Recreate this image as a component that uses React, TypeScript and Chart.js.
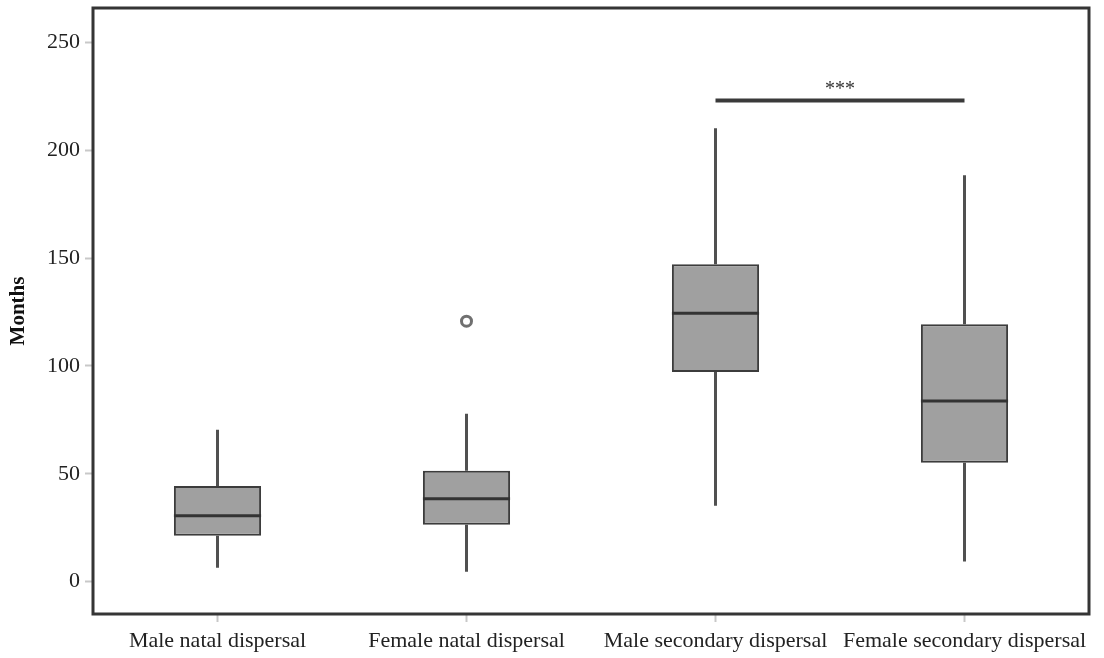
import React, { useEffect, useRef } from "react";
import { Chart, registerables } from "chart.js";

Chart.register(...registerables);

const categories = [
  "Male natal dispersal",
  "Female natal dispersal",
  "Male secondary dispersal",
  "Female secondary dispersal",
];
const whiskerLow = [6.5, 4.6, 35.2, 9.3];
const q1 = [21.3, 26.4, 97.2, 55.1];
const median = [30.6, 38.4, 124.5, 83.8];
const q3 = [44.4, 51.4, 147.2, 119.4];
const whiskerHigh = [70.4, 77.8, 210.2, 188.4];
const outliers = [null, 120.8, null, null];
const significance = [null, null, 223.1, 223.1];
const significanceLabel = "***";
const yTicks = [0, 50, 100, 150, 200, 250];
const yMin = -15;
const yMax = 266;

const FONT = "'Liberation Serif', 'DejaVu Serif', serif";

const boxPlugin = {
  id: "boxParts",
  beforeDatasetsDraw(chart: any) {
    const { ctx } = chart;
    const x = chart.scales.x;
    const y = chart.scales.y;
    ctx.save();
    ctx.strokeStyle = "#505050";
    ctx.lineWidth = 3;
    ctx.lineCap = "butt";
    for (let i = 0; i < categories.length; i++) {
      const cx = x.getPixelForValue(i);
      ctx.beginPath();
      ctx.moveTo(cx, y.getPixelForValue(whiskerLow[i]));
      ctx.lineTo(cx, y.getPixelForValue(q1[i]));
      ctx.moveTo(cx, y.getPixelForValue(q3[i]));
      ctx.lineTo(cx, y.getPixelForValue(whiskerHigh[i]));
      ctx.stroke();
    }
    ctx.restore();
  },
  afterDatasetsDraw(chart: any) {
    const { ctx } = chart;
    const y = chart.scales.y;
    const meta = chart.getDatasetMeta(0);
    ctx.save();
    ctx.strokeStyle = "#333333";
    ctx.lineWidth = 3;
    meta.data.forEach((bar: any, i: number) => {
      const half = bar.width / 2;
      const py = y.getPixelForValue(median[i]);
      ctx.beginPath();
      ctx.moveTo(bar.x - half, py);
      ctx.lineTo(bar.x + half, py);
      ctx.stroke();
    });
    const sigMeta = chart.getDatasetMeta(2);
    const pts = sigMeta.data.filter((p: any, i: number) => significance[i] != null);
    if (pts.length >= 2) {
      const mx = (pts[0].x + pts[pts.length - 1].x) / 2;
      const my = pts[0].y;
      ctx.fillStyle = "#333";
      ctx.font = `20px ${FONT}`;
      ctx.textAlign = "center";
      ctx.textBaseline = "bottom";
      ctx.fillText(significanceLabel, mx, my - 1);
    }
    ctx.restore();
  },
  afterDraw(chart: any) {
    const { ctx, chartArea } = chart;
    ctx.save();
    ctx.strokeStyle = "#353535";
    ctx.lineWidth = 3;
    ctx.strokeRect(chartArea.left, chartArea.top, chartArea.right - chartArea.left, chartArea.bottom - chartArea.top);
    ctx.restore();
  },
};

export default function App() {
  const ref = useRef<HTMLCanvasElement>(null);
  useEffect(() => {
    document.body.style.margin = "0";
    const chart = new Chart(ref.current!, {
      type: "bar",
      data: {
        labels: categories,
        datasets: [
          {
            type: "bar",
            data: q1.map((v, i) => [v, q3[i]]) as any,
            backgroundColor: "#a0a0a0",
            borderColor: "#3c3c3c",
            borderWidth: 2,
            borderSkipped: false,
            barPercentage: 0.35,
            categoryPercentage: 1,
          },
          {
            type: "line",
            data: outliers as any,
            showLine: false,
            pointStyle: "circle",
            pointRadius: 5,
            pointBorderWidth: 3,
            pointBorderColor: "#707070",
            pointBackgroundColor: "#ffffff",
          },
          {
            type: "line",
            data: significance as any,
            borderColor: "#3a3a3a",
            borderWidth: 4,
            pointRadius: 0,
            spanGaps: false,
          },
        ],
      },
      options: {
        animation: false,
        responsive: false,
        maintainAspectRatio: false,
        layout: { padding: { top: 8, right: 15, left: 0, bottom: 0 } },
        plugins: { legend: { display: false }, tooltip: { enabled: false } },
        scales: {
          x: {
            type: "category",
            offset: true,
            grid: {
              display: true,
              drawOnChartArea: false,
              drawTicks: true,
              tickLength: 8,
              tickColor: "#c8c8c8",
              tickWidth: 2,
              offset: false,
            },
            border: { display: false },
            ticks: {
              color: "#222",
              font: { family: FONT, size: 22 },
              padding: 6,
              maxRotation: 0,
              autoSkip: false,
            },
            afterFit(scale: any) {
              scale.height = 44;
              scale.paddingLeft = 0;
              scale.paddingRight = 0;
            },
          },
          y: {
            type: "linear",
            min: yMin,
            max: yMax,
            grid: {
              display: true,
              drawOnChartArea: false,
              drawTicks: true,
              tickLength: 8,
              tickColor: "#c8c8c8",
              tickWidth: 2,
            },
            border: { display: false },
            afterBuildTicks(scale: any) {
              scale.ticks = yTicks.map((v) => ({ value: v }));
            },
            ticks: {
              color: "#222",
              font: { family: FONT, size: 22 },
              padding: 5,
            },
            title: {
              display: true,
              text: "Months",
              color: "#111",
              font: { family: FONT, size: 21, weight: "bold" },
              padding: { top: 6, bottom: 0 },
            },
            afterFit(scale: any) {
              scale.width = 93;
              scale.paddingTop = 0;
              scale.paddingBottom = 0;
            },
          },
        },
      },
      plugins: [boxPlugin],
    } as any);
    return () => chart.destroy();
  }, []);
  return (
    <div style={{ width: 1104, height: 658 }}>
      <canvas ref={ref} width={1104} height={658} style={{ width: 1104, height: 658 }} />
    </div>
  );
}
